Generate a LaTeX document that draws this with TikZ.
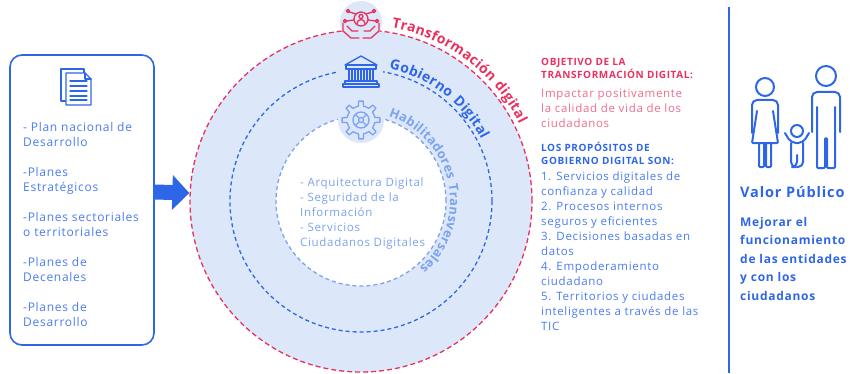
\documentclass[tikz,border=0pt]{standalone}
\usepackage{fontspec}
\setmainfont[LetterSpace=6]{Open Sans}
\usetikzlibrary{arrows.meta,calc,decorations.text}

\definecolor{blueD}{HTML}{2E66E8}
\definecolor{blueT}{HTML}{4A7BEF}
\definecolor{blueL}{HTML}{7BA3F0}
\definecolor{pinkD}{HTML}{E8315E}
\definecolor{pinkL}{HTML}{EF6C8C}
\definecolor{ringfill}{HTML}{DCE7F9}
\newcommand{\arcfont}{\bfseries\fontsize{14}{15}\selectfont}
\newcommand{\arcfontsm}{\bfseries\fontsize{12.8}{14}\selectfont}

\begin{document}
\begin{tikzpicture}[
 x=1pt, y=1pt,
 line join=round,
 align=left,
 inner sep=0pt,
 ring/.style={circle,minimum size=#1,inner sep=0pt},
 iconbg/.style={circle,fill=ringfill,minimum size=#1},
 icon/.style={line width=1.3pt,line cap=round,line join=round},
 family/.style={line width=2pt,line cap=round,rounded corners=5pt},
 planbox/.style={draw=blueD,line width=1.6pt,rounded corners=12pt,minimum width=144pt,minimum height=290pt},
 smalltext/.style={font=\fontsize{11.5}{15}\selectfont,anchor=north west},
 capstext/.style={font=\bfseries\fontsize{10}{13}\selectfont,anchor=north west},
 bigarrow/.style={draw=blueD,line width=15pt,-{Triangle[length=17pt,width=34pt]}}
]
\useasboundingbox (0,0) rectangle (862,373);

\coordinate (ctr) at (361,172);
\node (outer) [ring=342pt,fill=ringfill,draw=pinkD,line width=1.3pt,dash pattern=on 5pt off 3pt] at (ctr) {};
\node (inner) [ring=170pt,fill=white,draw=blueL,line width=1.3pt,dash pattern=on 4pt off 3pt] at (ctr) {};
\node (middle) [ring=262pt,draw=blueD,line width=1.3pt,dash pattern=on 4pt off 3pt] at (ctr) {};

\node (tdbg) [iconbg=42pt] at (361,351) {};
\node (gdbg) [iconbg=44pt] at (361,301) {};
\node (habbg) [iconbg=46pt] at (361,253) {};

\path[decorate,decoration={text along path,text align=fit to path,text color=pinkD,text={|\arcfont|Transformación digital}}]
 ($(ctr)+(80:176)$) arc[start angle=80,end angle=26,radius=176];
\path[decorate,decoration={text along path,text align=fit to path,text color=blueD,text={|\arcfont|Gobierno Digital}}]
 ($(ctr)+(78:135)$) arc[start angle=78,end angle=27,radius=135];
\path[decorate,decoration={text along path,text align=fit to path,text color=blueL,text={|\arcfontsm|Habilitadores Transversales}}]
 ($(ctr)+(72:89)$) arc[start angle=72,end angle=-49,radius=89];

\begin{scope}[shift={(tdbg.center)},pinkD,icon]
\draw (0,3) circle[radius=7];
\draw (0,5.5) circle[radius=2];
\draw (-4,-1.5) arc[start angle=180,end angle=0,radius=4];
\foreach \p in {(-13,11),(13,11),(-16,1),(16,1)} \draw \p circle[radius=1.6];
\draw (-11.5,10) -- (-5,8) (11.5,10) -- (5,8) (-14.4,1) -- (-7,2) (14.4,1) -- (7,2);
\draw (-18,-1) -- (-18,-9) -- (-10,-16) -- (-2,-16);
\draw (18,-1) -- (18,-9) -- (10,-16) -- (2,-16);
\draw (-14,-4) -- (-9,-9) -- (-3,-9);
\draw (14,-4) -- (9,-9) -- (3,-9);
\end{scope}

\begin{scope}[shift={(gdbg.center)},blueD,icon]
\draw (-16,7) -- (0,16) -- (16,7) -- cycle;
\draw (-15,3) rectangle (15,7);
\foreach \cx in {-12,-9,...,12} \draw (\cx,-9) -- (\cx,3);
\draw (-16,-12) rectangle (16,-9);
\draw (-18,-15) rectangle (18,-12);
\end{scope}

\begin{scope}[shift={(habbg.center)},blueL,icon]
\draw (-10:14) \foreach \a in {0,45,...,315} { -- (\a-7:19) arc[start angle=\a-7,end angle=\a+7,radius=19] -- (\a+11:14) arc[start angle=\a+11,end angle=\a+35,radius=14] } -- cycle;
\draw (0,0) circle[radius=8];
\draw (0,0) circle[radius=2.5];
\foreach \a in {45,135,225,315} \draw (\a:3.5) -- (\a:7.5);
\end{scope}

\node (plans) [planbox] at (82,173) {};
\begin{scope}[shift={(76,286)},blueD,icon]
\draw (-10,-14) -- (-15,-14) -- (-15,18) -- (8,18) -- (8,14);
\draw[fill=white] (-10,-18) -- (-10,14) -- (9,14) -- (15,8) -- (15,-18) -- cycle;
\draw (9,14) -- (9,8) -- (15,8);
\foreach \ly in {6,1,-4,-9,-13} \draw (-6,\ly) -- (11,\ly);
\end{scope}
\node (plantext) [anchor=north west,text=blueT,font=\fontsize{12}{15.5}\selectfont] at (23,251)
 {- Plan nacional de\\Desarrollo\\[14pt]-Planes\\Estratégicos\\[14pt]-Planes sectoriales\\o territoriales\\[14pt]-Planes de\\Decenales\\[14pt]-Planes de\\Desarrollo};

\draw[bigarrow] ([yshift=8pt]plans.east) -- ([yshift=8pt]outer.west);

\node (habtext) [smalltext,text=blueL] at (300,195)
 {- Arquitectura Digital\\- Seguridad de la\\Información\\- Servicios\\Ciudadanos Digitales};

\node (objtitle) [capstext,text=pinkD] at (541,315) {OBJETIVO DE LA\\TRANSFORMACIÓN DIGITAL:};
\node (objtext) [smalltext,text=pinkL] at (541,284) {Impactar positivamente\\la calidad de vida de los\\ciudadanos};
\node (proptitle) [capstext,text=blueD] at (541,231) {LOS PROPÓSITOS DE\\GOBIERNO DIGITAL SON:};
\node (proplist) [smalltext,text=blueT] at (541,201)
 {1. Servicios digitales de\\confianza y calidad\\2. Procesos internos\\seguros y eficientes\\3. Decisiones basadas en\\datos\\4. Empoderamiento\\ciudadano\\5. Territorios y ciudades\\inteligentes a través de las\\TIC};

\draw[blueD,line width=2.4pt] (729,0) -- (729,366);

\begin{scope}[blueD,family]
\draw (765,286) circle[radius=9];
\draw (752,240) -- (752,273) -- (778,273) -- (778,240);
\draw[rounded corners=1pt] (757,262) -- (752,230) -- (778,230) -- (773,262);
\draw[rounded corners=1pt] (759,230) -- (759,206) -- (764,206) -- (764,230);
\draw[rounded corners=1pt] (766,230) -- (766,206) -- (771,206) -- (771,230);
\draw (797,242) circle[radius=6];
\draw (785,240) -- (791,230) -- (803,230) -- (809,240);
\draw (791,230) -- (791,206) -- (797,206) -- (797,218);
\draw (803,230) -- (803,206) -- (797,206);
\draw (826,297) circle[radius=10];
\draw (812,241) -- (812,281) -- (840,281) -- (840,241);
\draw[rounded corners=1pt] (817,266) -- (817,205) -- (825,205) -- (825,235) -- (827,235) -- (827,205) -- (835,205) -- (835,266);
\end{scope}

\node (valor) [anchor=north west,text=blueD,font=\bfseries\fontsize{14.5}{16}\selectfont] at (740,187) {Valor Público};
\node (valortext) [anchor=north west,text=blueD,font=\bfseries\fontsize{12}{18.5}\selectfont] at (740,156)
 {Mejorar el\\funcionamiento\\de las entidades\\y con los\\ciudadanos};
\end{tikzpicture}
\end{document}
